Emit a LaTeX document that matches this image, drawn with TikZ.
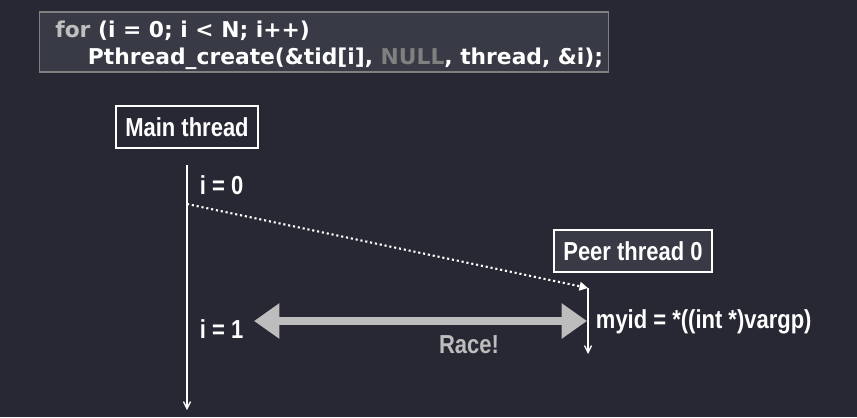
\documentclass[tikz,border=0pt]{standalone}
\usepackage{fontspec}
\setmainfont{Liberation Sans}[FakeStretch=0.845]
\newfontfamily\codefont{DejaVu Sans}
\usepackage{xcolor}
\usetikzlibrary{positioning,arrows.meta}

\definecolor{bgcol}{HTML}{272833}
\definecolor{boxcol}{HTML}{383A45}
\definecolor{racecol}{HTML}{BDBDBD}
\definecolor{nullcol}{HTML}{808080}

\begin{document}
\begin{tikzpicture}[x=0.025cm, y=-0.025cm, every node/.style={text=white, font=\bfseries\fontsize{18.5}{20}\selectfont},
   threadbox/.style={draw=white, line width=1.2pt, inner xsep=6.5pt, minimum height=1.05cm},
   timeline/.style={white, line width=0.9pt, -{Straight Barb[length=5pt,width=5pt]}}]
   \fill[bgcol] (0,0) rectangle (857,417);
   \useasboundingbox (0,0) rectangle (857,417);

   % code
   \node[draw=gray, fill=boxcol, line width=0.8pt, minimum width=14.2cm, minimum height=1.5cm] (code) at (324,42) {};
   \node[anchor=west, font=\codefont\bfseries\fontsize{15.5}{19.5}\selectfont, align=left, inner sep=0pt] (loop) at (55,45)
      {\textcolor{lightgray}{for} (i = 0; i < N; i++)\\
       \hspace{1.5em}Pthread\_create(\&tid[i], \textcolor{nullcol}{NULL}, thread, \&i);};

   % threads
   \node[threadbox, fill=bgcol] (main) at (187,127) {Main thread};
   \node[threadbox, fill=boxcol] (peer) at (633,251) {Peer thread 0};

   \coordinate (m0) at (187,165);
   \coordinate (mend) at (187,410);
   \coordinate (fork) at (187,204);
   \coordinate (p0) at (588,288);
   \coordinate (pend) at (588,354);
   \draw[timeline] (m0) -- (mend);
   \draw[timeline] (p0) -- (pend);
   \draw[white, line width=1.5pt, dotted, -{Triangle[length=6pt,width=6pt]}] (fork) -- (p0);

   \node[anchor=west] (i0) at (195,185) {i = 0};
   \node[anchor=west] (i1) at (195,329) {i = 1};
   \node[anchor=west] (myid) at (591,322) {myid = *((int *)vargp)};
   \node[text=racecol] (race) at (469,345) {Race!};

   \coordinate (ra) at (254,321);
   \coordinate (rb) at (587,321);
   \draw[racecol, line width=5pt, {Triangle[length=18pt,width=24pt]}-{Triangle[length=18pt,width=24pt]}] (ra) -- (rb);
\end{tikzpicture}
\end{document}
